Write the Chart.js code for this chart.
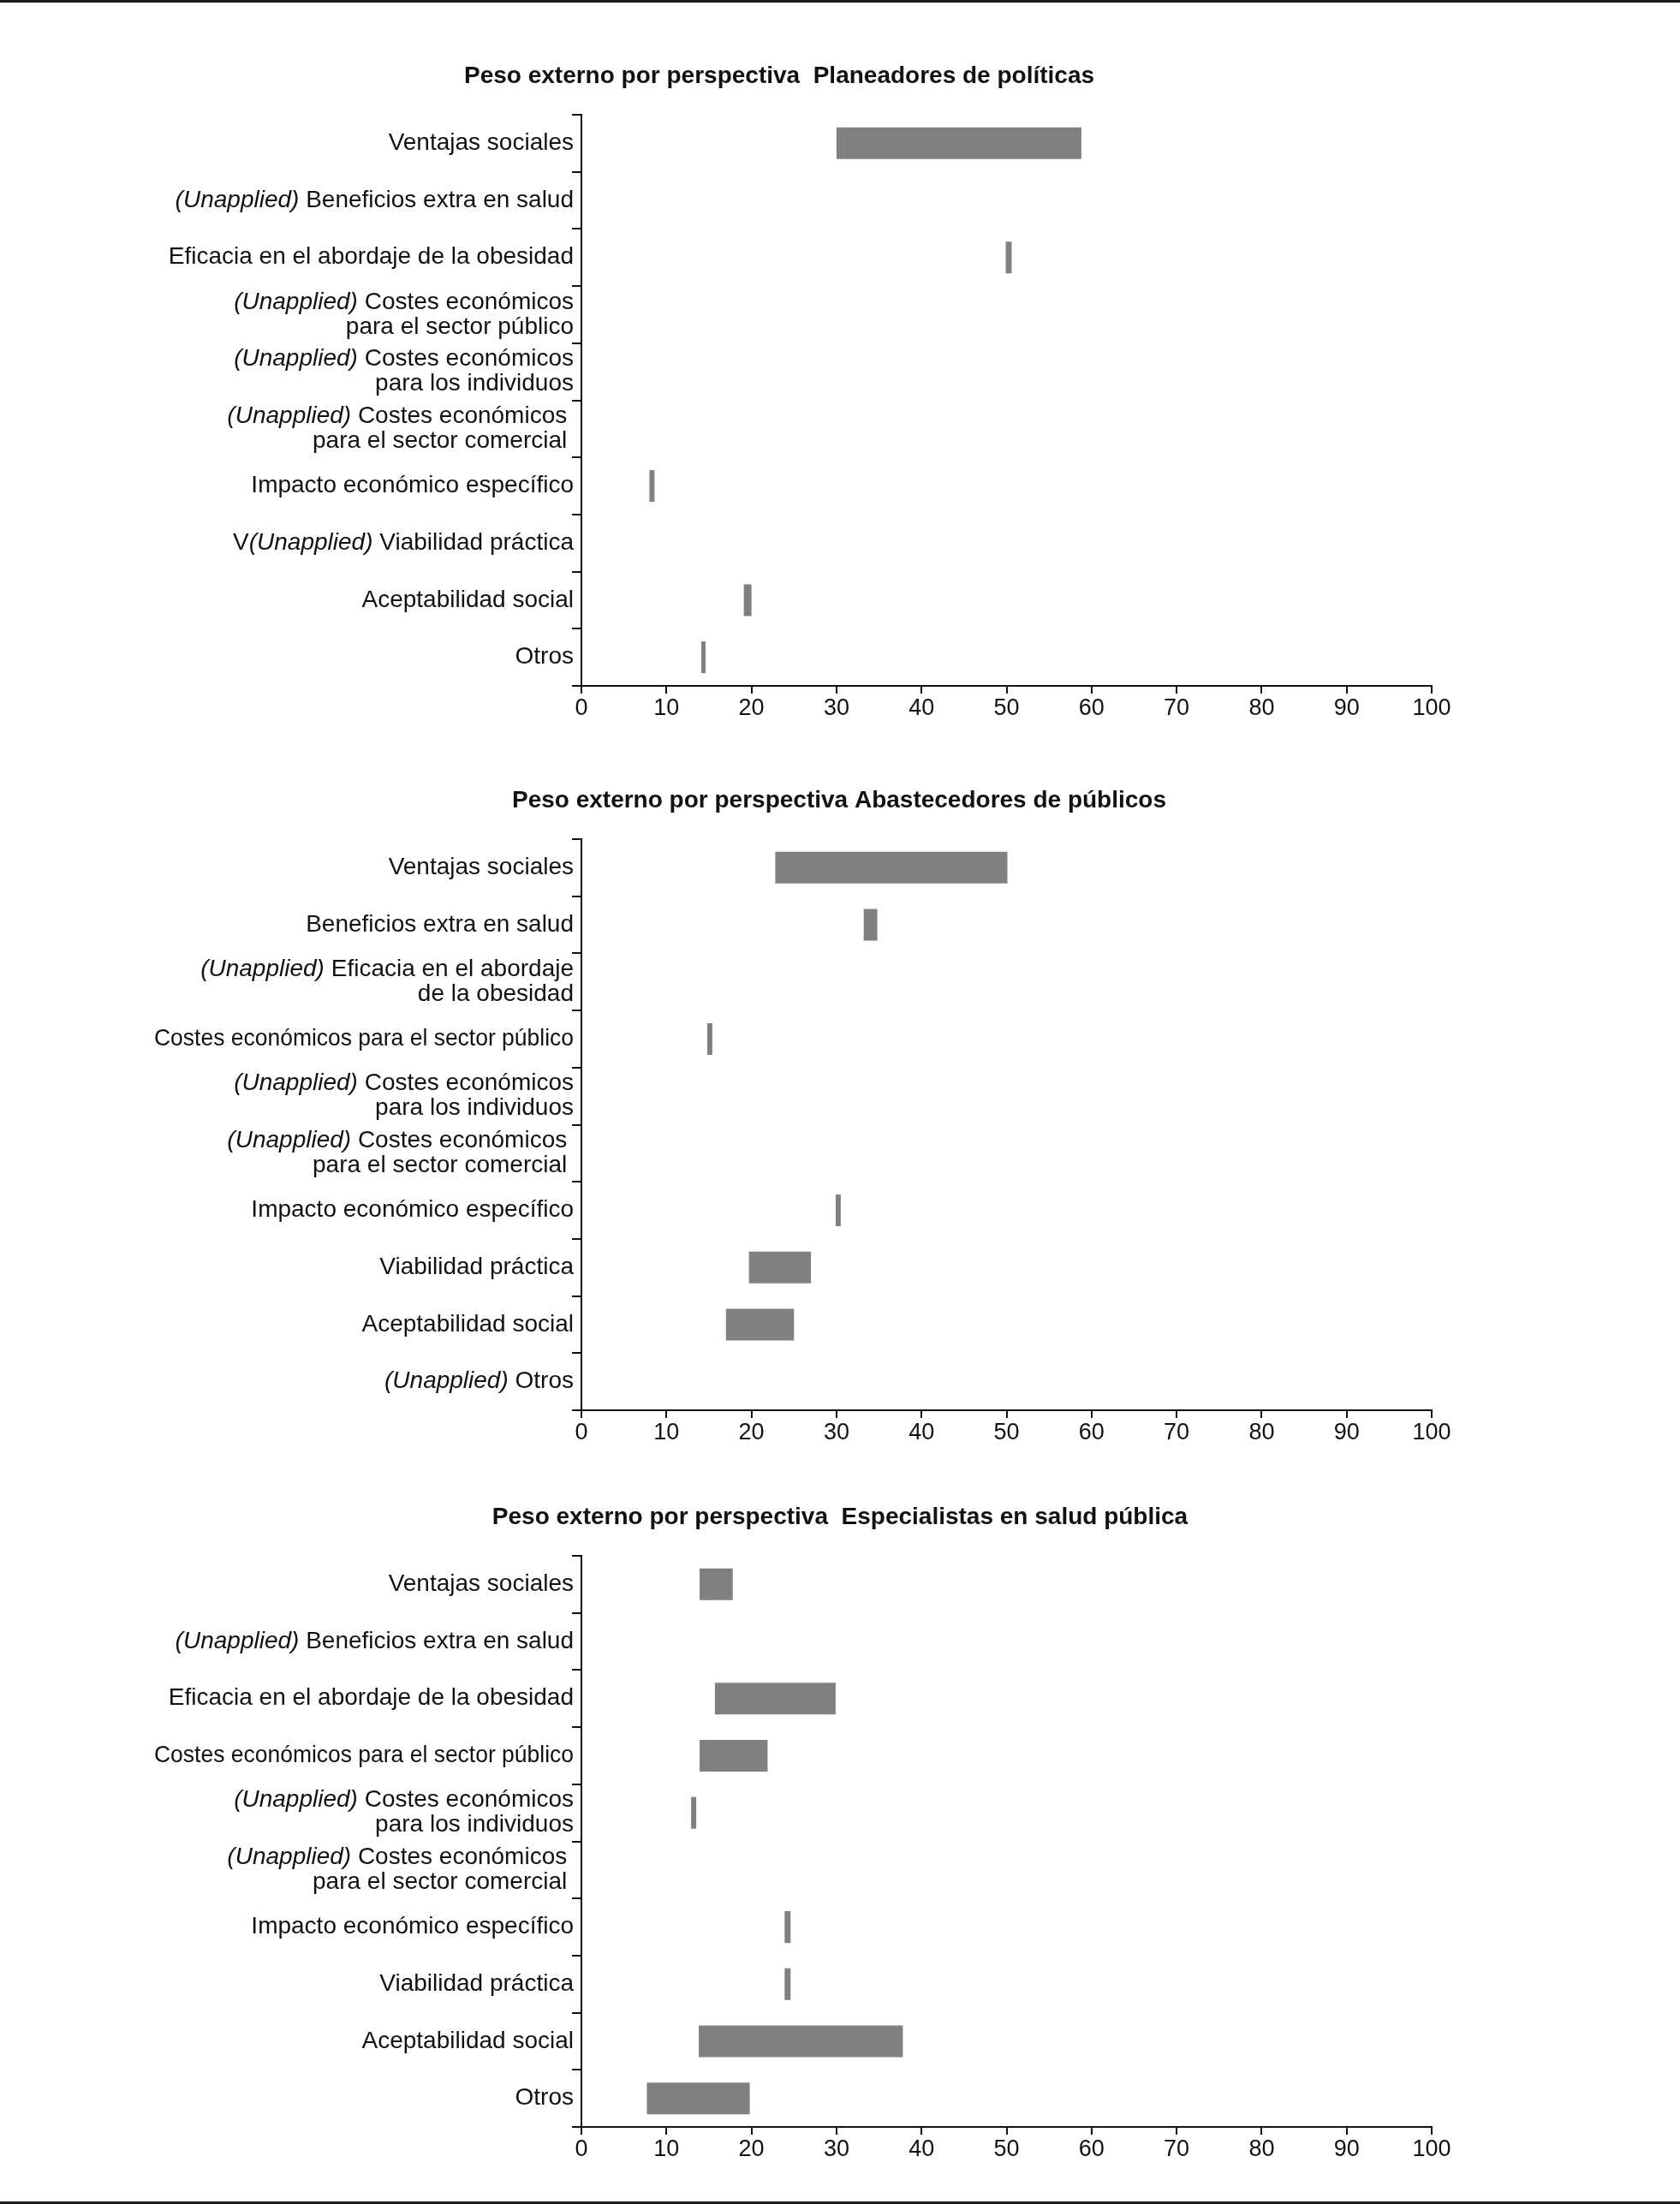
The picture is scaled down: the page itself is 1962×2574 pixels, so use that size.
<!DOCTYPE html>
<html>
<head>
<meta charset="utf-8">
<title>Peso externo por perspectiva</title>
<script src="https://cdn.jsdelivr.net/npm/chart.js@4/dist/chart.umd.min.js"></script>
<style>
  html, body { margin: 0; padding: 0; background: #fff; }
  #page {
    position: relative;
    width: 1962px;
    height: 2574px;
    box-sizing: border-box;
    border-top: 3px solid #1a1a1a;
    border-bottom: 3px solid #1a1a1a;
    overflow: hidden;
  }
  canvas { position: absolute; left: 0; }
</style>
</head>
<body>
<div id="page">
  <canvas id="chartPlaneadores" width="1962" height="880" style="top:-3px"></canvas>
  <canvas id="chartAbastecedores" width="1962" height="880" style="top:843px"></canvas>
  <canvas id="chartEspecialistas" width="1962" height="880" style="top:1680px"></canvas>
</div>
<script>
// Data (text between * is drawn in italic, \n breaks a label in two lines)
const titlePlaneadores = "Peso externo por perspectiva  Planeadores de políticas";
const titleAbastecedores = "Peso externo por perspectiva Abastecedores de públicos";
const titleEspecialistas = "Peso externo por perspectiva  Especialistas en salud pública";

const categoriesPlaneadores = [
  "Ventajas sociales",
  "*(Unapplied)* Beneficios extra en salud",
  "Eficacia en el abordaje de la obesidad",
  "*(Unapplied)* Costes económicos\npara el sector público",
  "*(Unapplied)* Costes económicos\npara los individuos",
  "*(Unapplied)* Costes económicos \npara el sector comercial ",
  "Impacto económico específico",
  "V*(Unapplied)* Viabilidad práctica",
  "Aceptabilidad social",
  "Otros"
];
const rangesPlaneadores = [
  [30, 58.8], null, [49.9, 50.6], null, null, null,
  [8, 8.6], null, [19.1, 20], [14.1, 14.6]
];

const categoriesAbastecedores = [
  "Ventajas sociales",
  "Beneficios extra en salud",
  "*(Unapplied)* Eficacia en el abordaje\nde la obesidad",
  "Costes económicos para el sector público",
  "*(Unapplied)* Costes económicos\npara los individuos",
  "*(Unapplied)* Costes económicos \npara el sector comercial ",
  "Impacto económico específico",
  "Viabilidad práctica",
  "Aceptabilidad social",
  "*(Unapplied)* Otros"
];
const rangesAbastecedores = [
  [22.8, 50.1], [33.2, 34.8], null, [14.8, 15.4], null, null,
  [29.9, 30.5], [19.7, 27], [17, 25], null
];

const categoriesEspecialistas = [
  "Ventajas sociales",
  "*(Unapplied)* Beneficios extra en salud",
  "Eficacia en el abordaje de la obesidad",
  "Costes económicos para el sector público",
  "*(Unapplied)* Costes económicos\npara los individuos",
  "*(Unapplied)* Costes económicos \npara el sector comercial ",
  "Impacto económico específico",
  "Viabilidad práctica",
  "Aceptabilidad social",
  "Otros"
];
const rangesEspecialistas = [
  [13.9, 17.8], null, [15.7, 29.9], [13.9, 21.9], [12.9, 13.5], null,
  [23.9, 24.6], [23.9, 24.6], [13.8, 37.8], [7.7, 19.8]
];

// x axis
const X_MIN = 0;
const X_MAX = 100;
const X_STEP = 10;

// Styles
const FONT_FAMILY = '"Liberation Sans", Arial, Helvetica, sans-serif';
const TEXT_COLOR = "#111";
const BAR_COLOR = "#808080";
const LABEL_SIZE = 28;
const TICK_SIZE = 27;
const LINE_HEIGHT = 29;
const MAX_LABEL_WIDTH = 490; // long labels are squeezed like in the original

// draws the bold title centered at a given x
const panelTitle = {
  id: "panelTitle",
  afterDraw(chart, args, opts) {
    const ctx = chart.ctx;
    ctx.save();
    ctx.font = "bold 28px " + FONT_FAMILY;
    ctx.fillStyle = TEXT_COLOR;
    ctx.textAlign = "center";
    ctx.textBaseline = "alphabetic";
    ctx.fillText(opts.text, opts.x, opts.y);
    ctx.restore();
  }
};

// draws category labels with italic parts, right aligned next to the y axis
const richLabels = {
  id: "richLabels",
  afterDraw(chart, args, opts) {
    const ctx = chart.ctx;
    const yScale = chart.scales.y;
    const right = chart.chartArea.left - 9;
    const normalFont = LABEL_SIZE + "px " + FONT_FAMILY;
    const italicFont = "italic " + LABEL_SIZE + "px " + FONT_FAMILY;

    ctx.save();
    ctx.fillStyle = TEXT_COLOR;
    ctx.textAlign = "left";
    ctx.textBaseline = "middle";

    chart.data.labels.forEach((label, i) => {
      const centerY = yScale.getPixelForValue(i);
      const lines = label.split("\n");
      let y = centerY - (lines.length - 1) * LINE_HEIGHT / 2;

      lines.forEach((line) => {
        const parts = line.split("*").map((text, k) => ({ text: text, italic: k % 2 === 1 }));
        let width = 0;
        parts.forEach((p) => {
          ctx.font = p.italic ? italicFont : normalFont;
          p.width = ctx.measureText(p.text).width;
          width += p.width;
        });
        const squeeze = Math.min(1, MAX_LABEL_WIDTH / width);

        ctx.save();
        ctx.translate(right, y);
        ctx.scale(squeeze, 1);
        let x = -width;
        parts.forEach((p) => {
          ctx.font = p.italic ? italicFont : normalFont;
          ctx.fillText(p.text, x, 0);
          x += p.width;
        });
        ctx.restore();
        y += LINE_HEIGHT;
      });
    });
    ctx.restore();
  }
};

const makeChart = (canvasId, title, titleX, categories, ranges) => {
  const ctx = document.getElementById(canvasId).getContext("2d");
  return new Chart(ctx, {
    type: "bar",
    data: {
      labels: categories,
      datasets: [{
        data: ranges,
        backgroundColor: BAR_COLOR,
        borderWidth: 0,
        borderSkipped: false,
        categoryPercentage: 1,
        barPercentage: 0.555
      }]
    },
    options: {
      indexAxis: "y",
      responsive: false,
      animation: false,
      layout: {
        padding: { left: 0, right: 290, top: 134, bottom: 19 }
      },
      plugins: {
        legend: { display: false },
        tooltip: { enabled: false },
        title: { display: false },
        panelTitle: { text: title, x: titleX, y: 97 },
        richLabels: {}
      },
      scales: {
        x: {
          type: "linear",
          min: X_MIN,
          max: X_MAX,
          afterFit: (scale) => { scale.height = 60; },
          border: { display: true, color: TEXT_COLOR, width: 2 },
          grid: {
            drawOnChartArea: false,
            drawTicks: true,
            tickLength: 9,
            lineWidth: 2,
            color: TEXT_COLOR
          },
          ticks: {
            stepSize: X_STEP,
            padding: 1,
            color: TEXT_COLOR,
            font: { family: FONT_FAMILY, size: TICK_SIZE }
          }
        },
        y: {
          afterFit: (scale) => { scale.width = 679; },
          border: { display: true, color: TEXT_COLOR, width: 2 },
          grid: {
            offset: true,
            drawOnChartArea: false,
            drawTicks: true,
            tickLength: 11,
            lineWidth: 2,
            color: TEXT_COLOR
          },
          ticks: { display: false }
        }
      }
    },
    plugins: [panelTitle, richLabels]
  });
};

makeChart("chartPlaneadores", titlePlaneadores, 910, categoriesPlaneadores, rangesPlaneadores);
makeChart("chartAbastecedores", titleAbastecedores, 980, categoriesAbastecedores, rangesAbastecedores);
makeChart("chartEspecialistas", titleEspecialistas, 981, categoriesEspecialistas, rangesEspecialistas);
</script>
</body>
</html>
